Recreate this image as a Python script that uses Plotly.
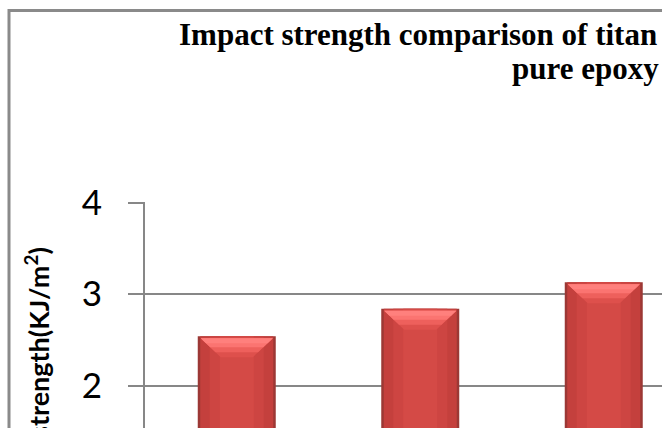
import plotly.graph_objects as go

# ---- data -------------------------------------------------------------
categories = ["A", "B", "C"]
impact_strength = [2.54, 2.84, 3.13]          # KJ/m^2
y_tick_values = [2, 3, 4]
y_tick_labels = ["2", "3", "4"]

title_line_1 = "Impact strength comparison of titan"
title_line_2 = "pure epoxy"
y_axis_title = "Impact strength(KJ/m<sup>2</sup>)"

# ---- geometry ---------------------------------------------------------
W, H = 662, 428
PLOT_LEFT, PLOT_TOP = 145, 202
PX_PER_CAT = 183.5
PX_PER_UNIT = 91.3
plot_w = W - PLOT_LEFT
plot_h = H - PLOT_TOP
y_top = 4.01
y_bottom = y_top - plot_h / PX_PER_UNIT
x_left = -0.5
x_right = x_left + plot_w / PX_PER_CAT


def paper_x(px):
    return (px - PLOT_LEFT) / plot_w


def paper_y(py):
    return (H - py) / plot_h


GRID = "#878787"
x_pos = list(range(len(categories)))
bar_w = 78 / PX_PER_CAT

fig = go.Figure()

# cylinder-like shading: stacked bars, darkest and widest first
shade_layers = [
    (bar_w, "#9c3835"),
    (bar_w - 5 / PX_PER_CAT, "#c4403d"),
    (bar_w - 24 / PX_PER_CAT, "#cd4542"),
    (bar_w - 44 / PX_PER_CAT, "#d44a46"),
]
for w, c in shade_layers:
    fig.add_trace(go.Bar(
        x=x_pos, y=impact_strength, width=w,
        marker=dict(color=c, line=dict(width=0)),
        hoverinfo="skip", showlegend=False,
    ))

# bevelled highlight at the top of each bar
shapes = []
for i, v in zip(x_pos, impact_strength):
    half = bar_w / 2
    top = v - 2 / PX_PER_UNIT
    inset = 3 / PX_PER_CAT
    xl, xr = i - half + inset, i + half - inset
    for depth, color in [(19, "#de504c"), (14, "#ee605c"), (9, "#fb7471"), (5, "#ff807d")]:
        dy = depth / PX_PER_UNIT
        dx = depth * 1.05 / PX_PER_CAT
        shapes.append(dict(
            type="path", xref="x", yref="y", layer="above",
            path=f"M {xl},{top} L {xr},{top} L {xr - dx},{top - dy} L {xl + dx},{top - dy} Z",
            fillcolor=color, line=dict(width=0),
        ))

# chart-area frame
shapes.append(dict(
    type="rect", xref="paper", yref="paper",
    x0=paper_x(9), y0=-1, x1=2, y1=paper_y(10.5),
    line=dict(color="#8a8a8a", width=3), fillcolor="rgba(0,0,0,0)",
))

annotations = [
    dict(text=f"<b>{title_line_1}</b>", xref="paper", yref="paper",
         x=paper_x(177), y=paper_y(34), xanchor="left", yanchor="middle",
         showarrow=False, font=dict(family="Liberation Serif", size=31, color="black")),
    dict(text=f"<b>{title_line_2}</b>", xref="paper", yref="paper",
         x=paper_x(510), y=paper_y(68), xanchor="left", yanchor="middle",
         showarrow=False, font=dict(family="Liberation Serif", size=31, color="black")),
    dict(text=f"<b>{y_axis_title}</b>", xref="paper", yref="paper",
         x=paper_x(37), y=paper_y(245), xanchor="center", yanchor="top",
         textangle=-90, showarrow=False,
         font=dict(family="Lato", size=27, color="black")),
]

fig.update_layout(
    width=W, height=H,
    margin=dict(l=PLOT_LEFT, r=0, t=PLOT_TOP, b=0, pad=0),
    paper_bgcolor="white", plot_bgcolor="white",
    barmode="overlay",
    showlegend=False,
    shapes=shapes,
    annotations=annotations,
    xaxis=dict(
        range=[x_left, x_right], showgrid=False, zeroline=False,
        showline=False, showticklabels=False, ticks="", automargin=False,
        tickvals=x_pos, ticktext=categories,
    ),
    yaxis=dict(
        range=[y_bottom, y_top], tickvals=y_tick_values, ticktext=y_tick_labels,
        showgrid=True, gridcolor=GRID, gridwidth=2,
        showline=True, linecolor=GRID, linewidth=2,
        ticks="outside", ticklen=15, tickwidth=2, tickcolor=GRID,
        ticklabelstandoff=19,
        tickfont=dict(family="Lato", size=35, color="black"),
        zeroline=False, automargin=False,
    ),
)

fig.write_html("out.html")
